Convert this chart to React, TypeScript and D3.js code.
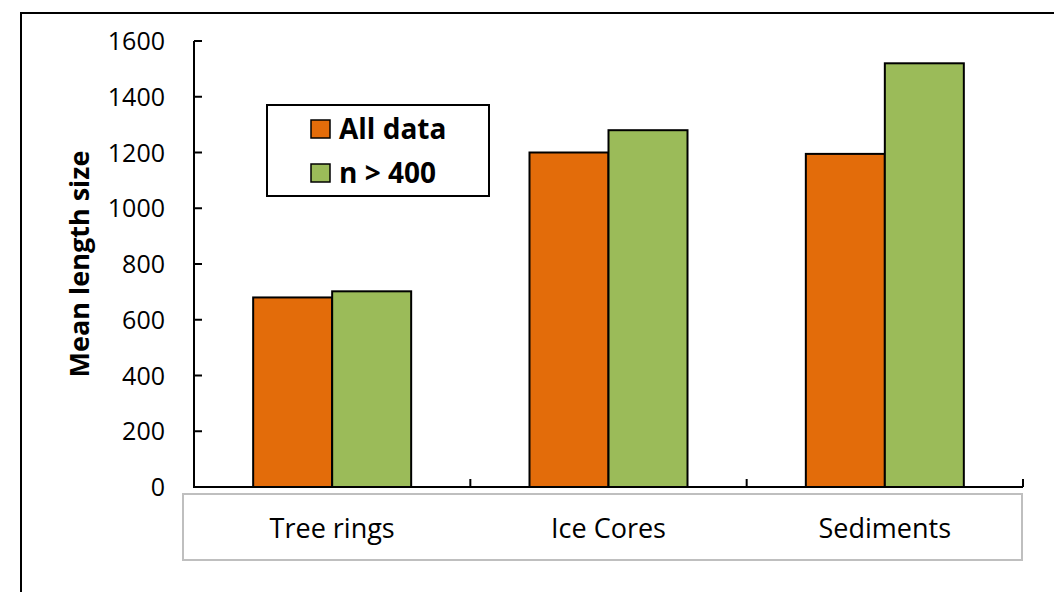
import React from "react";
import * as d3 from "d3";

const categories = ["Tree rings", "Ice Cores", "Sediments"];
const allData = [680, 1200, 1195];
const nOver400 = [702, 1280, 1520];
const seriesNames = ["All data", "n > 400"];
const yTicks = [0, 200, 400, 600, 800, 1000, 1200, 1400, 1600];

const COLORS = ["#E36C0A", "#9BBB59"];

export default function App() {
  const W = 1054, H = 592;
  const x0 = 194, x1 = 1023, yTop = 41, yBot = 487;
  const x = d3.scaleBand<string>().domain(categories).range([x0, x1]).padding(0);
  const y = d3.scaleLinear().domain([0, 1600]).range([yBot, yTop]);
  const barW = 79;
  const series = [allData, nOver400];
  const font = "'Open Sans', 'Liberation Sans', sans-serif";

  return (
    <svg width={W} height={H} style={{ position: "absolute", left: 0, top: 0, background: "#fff" }}>
      <rect x={21} y={13} width={1060} height={600} fill="#fff" stroke="#000" strokeWidth={2} />
      {/* bars */}
      {categories.map((c, i) => {
        const cx = (x(c) as number) + x.bandwidth() / 2;
        return series.map((s, k) => (
          <rect
            key={c + k}
            x={cx - barW + k * barW}
            y={y(s[i])}
            width={barW}
            height={yBot - y(s[i])}
            fill={COLORS[k]}
            stroke="#000"
            strokeWidth={2}
          />
        ));
      })}
      {/* y axis */}
      <line x1={x0} x2={x0} y1={yTop} y2={yBot} stroke="#000" strokeWidth={2} />
      {yTicks.map((t) => (
        <g key={t}>
          <line x1={x0} x2={x0 + 8} y1={y(t)} y2={y(t)} stroke="#000" strokeWidth={2} />
          <text x={165} y={y(t)} dy="0.36em" textAnchor="end" fontFamily={font} fontSize={25} fill="#000">
            {t}
          </text>
        </g>
      ))}
      {/* x axis */}
      <line x1={x0 - 1} x2={x1} y1={yBot} y2={yBot} stroke="#000" strokeWidth={2} />
      {categories.map((c) => {
        const xr = (x(c) as number) + x.bandwidth();
        return <line key={c} x1={xr} x2={xr} y1={yBot} y2={yBot - 8} stroke="#000" strokeWidth={2} />;
      })}
      {/* category label box */}
      <rect x={183} y={494} width={839} height={66} fill="#fff" stroke="#BFBFBF" strokeWidth={2} />
      {categories.map((c) => (
        <text
          key={c}
          x={(x(c) as number) + x.bandwidth() / 2}
          y={529}
          dy="0.35em"
          textAnchor="middle"
          fontFamily={font}
          fontSize={27}
          fill="#000"
        >
          {c}
        </text>
      ))}
      {/* y title */}
      <text
        transform="translate(80,264) rotate(-90)"
        textAnchor="middle"
        dy="0.35em"
        fontFamily={font}
        fontWeight="bold"
        fontSize={27}
        fill="#000"
      >
        Mean length size
      </text>
      {/* legend */}
      <rect x={267} y={105} width={222} height={91} fill="#fff" stroke="#000" strokeWidth={2} />
      {seriesNames.map((n, k) => (
        <g key={n}>
          <rect x={311} y={120 + k * 44} width={19} height={18} fill={COLORS[k]} stroke="#000" strokeWidth={1.5} />
          <text x={339} y={129 + k * 44} dy="0.35em" fontFamily={font} fontWeight="bold" fontSize={28} fill="#000">
            {n}
          </text>
        </g>
      ))}
    </svg>
  );
}
